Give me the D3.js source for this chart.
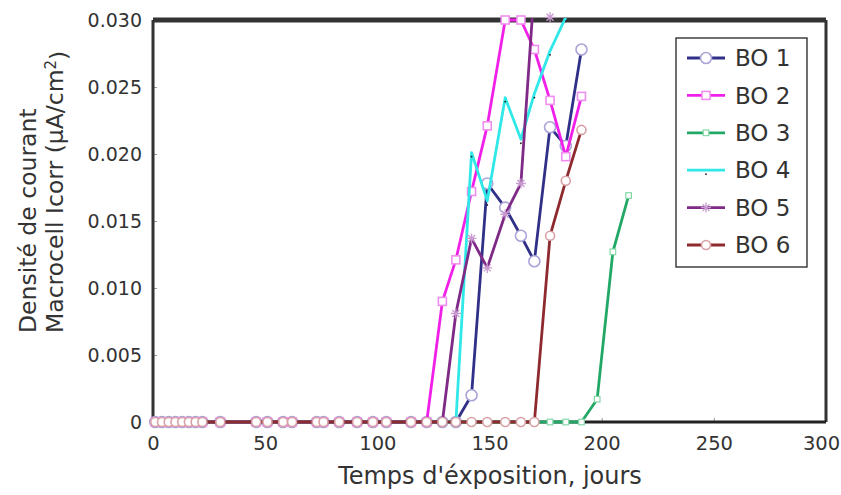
<!DOCTYPE html>
<html>
<head>
<meta charset="utf-8">
<script src="https://cdn.jsdelivr.net/npm/d3@7"></script>
<style>
  body { margin: 0; background: #fff; }
  svg { display: block; }
  text { font-family: "DejaVu Sans", sans-serif; fill: #333; }
</style>
</head>
<body>
<svg width="841" height="495"></svg>
<script>
// sampling days (shared by all specimens)
const days = [1,4,7,10,13,16,19,22,30,46,51,58,62,73,76,83,91,98,104,115,122,
              129,135,142,149,157,164,170,177,184,191,198,205,212];

// current density per specimen, from day 129 on (0 before that), null = not measured
const lateDays = [129,135,142,149,157,164,170,177,184,191,198,205,212];
const bo1 = [0, 0, 0.0020, 0.0178, 0.0160, 0.0139, 0.0120, 0.0220, 0.0206, 0.0278, null, null, null];
const bo2 = [0.0090, 0.0121, 0.0172, 0.0221, 0.0300, 0.0300, 0.0278, 0.0240, 0.0198, 0.0243, null, null, null];
const bo3 = [0, 0, 0, 0, 0, 0, 0, 0, 0, 0, 0.0017, 0.0127, 0.0169];
const bo4 = [0, 0, 0.0201, 0.0165, 0.0242, 0.0211, 0.0245, 0.0277, 0.0302, null, null, null, null];
const bo5 = [0, 0.0081, 0.0137, 0.0115, 0.0155, 0.0178, 0.0325, 0.0302, null, null, null, null, null];
const bo6 = [0, 0, 0, 0, 0, 0, 0, 0.0139, 0.0180, 0.0218, null, null, null];

const names = ['BO 1','BO 2','BO 3','BO 4','BO 5','BO 6'];
const xTicks = [0, 50, 100, 150, 200, 250, 300];
const yTicks = [0, 0.005, 0.010, 0.015, 0.020, 0.025, 0.030];

const lineColors = ['#303088', '#f020e8', '#22a866', '#30e8e8', '#7e2a86', '#8e2a2e'];
const markColors = ['#aaa4d8', '#f08ef0', '#86d8a8', '#222222', '#c89ad0', '#d8a0a4'];
const markShapes = ['circle', 'square', 'small', 'dot', 'star', 'circle6'];

// build full series: zeros before day 129
const early = days.filter(d => d < 129);
const series = [bo1, bo2, bo3, bo4, bo5, bo6].map((vals, i) => ({
  name: names[i],
  pts: early.map(d => ({d: d, v: 0}))
        .concat(lateDays.map((d, j) => ({d: d, v: vals[j]})).filter(p => p.v !== null))
}));

const svg = d3.select('svg');
const pL = 153, pR = 826, pT = 20, pB = 422;

const x = d3.scaleLinear().domain([0, 300]).range([pL, pR]);
const y = d3.scaleLinear().domain([0, 0.030]).range([pB, pT]);

// axes: short inward ticks, no domain line
const xAxis = svg.append('g')
  .attr('transform', 'translate(0,' + pB + ')')
  .call(d3.axisBottom(x).tickValues(xTicks).tickSize(-4).tickPadding(14).tickFormat(d3.format('d')));
const yAxis = svg.append('g')
  .attr('transform', 'translate(' + pL + ',0)')
  .call(d3.axisLeft(y).tickValues(yTicks).tickSize(-4).tickPadding(11)
        .tickFormat(d => d === 0 ? '0' : d3.format('.3f')(d)));
[xAxis, yAxis].forEach(a => {
  a.select('.domain').remove();
  a.selectAll('line').attr('stroke', '#999');
  a.selectAll('text').style('font-family', '"DejaVu Sans", sans-serif').attr('fill', '#333');
});
xAxis.selectAll('text').style('font-size', '19.5px');
// last label sits at the window edge, nudge it in a bit
xAxis.selectAll('.tick').filter(d => d === 300).select('text').attr('dx', -5);
yAxis.selectAll('text').style('font-size', '19px').attr('dy', '0.36em');

// frame
svg.append('line').attr('x1', pL).attr('x2', pR).attr('y1', pT).attr('y2', pT)
  .attr('stroke', '#333').attr('stroke-width', 5);
svg.append('line').attr('x1', pL).attr('x2', pL).attr('y1', pT).attr('y2', pB)
  .attr('stroke', '#333').attr('stroke-width', 3);
svg.append('line').attr('x1', pR).attr('x2', pR).attr('y1', pT).attr('y2', pB)
  .attr('stroke', '#333').attr('stroke-width', 3);
svg.append('line').attr('x1', pL).attr('x2', pR).attr('y1', pB).attr('y2', pB)
  .attr('stroke', '#222').attr('stroke-width', 3);

// clip lines to the plot area
svg.append('clipPath').attr('id', 'plotClip')
  .append('rect').attr('x', pL).attr('y', pT - 2).attr('width', pR - pL).attr('height', pB - pT + 4);

const line = d3.line().x(p => x(p.d)).y(p => y(p.v));

// draws one marker at (cx, cy)
function drawMarker(g, shape, cx, cy, col) {
  if (shape === 'circle') {
    g.append('circle').attr('cx', cx).attr('cy', cy).attr('r', 5.5)
      .attr('fill', '#fff').attr('stroke', col).attr('stroke-width', 1.6);
  } else if (shape === 'circle6') {
    g.append('circle').attr('cx', cx).attr('cy', cy).attr('r', 4.5)
      .attr('fill', '#fff').attr('stroke', col).attr('stroke-width', 1.6);
  } else if (shape === 'square') {
    g.append('rect').attr('x', cx - 4).attr('y', cy - 4).attr('width', 8).attr('height', 8)
      .attr('fill', '#fff').attr('stroke', col).attr('stroke-width', 1.6);
  } else if (shape === 'small') {
    g.append('rect').attr('x', cx - 2.8).attr('y', cy - 2.8).attr('width', 5.6).attr('height', 5.6)
      .attr('fill', '#fff').attr('stroke', col).attr('stroke-width', 1.2);
  } else if (shape === 'dot') {
    g.append('circle').attr('cx', cx).attr('cy', cy + 4).attr('r', 0.9).attr('fill', col);
  } else if (shape === 'star') {
    g.append('path')
      .attr('d', 'M' + (cx - 5) + ',' + cy + 'h10M' + cx + ',' + (cy - 5) + 'v10' +
                 'M' + (cx - 3.5) + ',' + (cy - 3.5) + 'l7,7M' + (cx - 3.5) + ',' + (cy + 3.5) + 'l7,-7')
      .attr('stroke', col).attr('stroke-width', 1.3).attr('fill', 'none');
  }
}

series.forEach((s, i) => {
  const g = svg.append('g').attr('class', 'series');
  g.append('path').datum(s.pts)
    .attr('d', line)
    .attr('clip-path', 'url(#plotClip)')
    .attr('fill', 'none')
    .attr('stroke', lineColors[i])
    .attr('stroke-width', 2.8)
    .attr('stroke-linejoin', 'round');
  s.pts.filter(p => p.v <= 0.0305).forEach(p =>
    drawMarker(g, markShapes[i], x(p.d), y(p.v), markColors[i]));
});

// legend
const lg = svg.append('g').attr('transform', 'translate(676,38)');
lg.append('rect').attr('width', 131).attr('height', 229)
  .attr('fill', '#fff').attr('stroke', '#222').attr('stroke-width', 1.3);
names.forEach((n, i) => {
  const cy = 20 + i * 37.4;
  lg.append('line').attr('x1', 11).attr('x2', 49).attr('y1', cy).attr('y2', cy)
    .attr('stroke', lineColors[i]).attr('stroke-width', 2.8);
  drawMarker(lg, markShapes[i], 30, cy, markColors[i]);
  lg.append('text').attr('x', 59).attr('y', cy).attr('dy', '0.36em')
    .style('font-size', '23px').attr('fill', '#222').text(n);
});

// axis titles
svg.append('text')
  .attr('x', 490).attr('y', 484)
  .attr('text-anchor', 'middle')
  .style('font-size', '24px')
  .text("Temps d'éxposition, jours");

const yt = svg.append('text')
  .attr('transform', 'translate(0,333) rotate(-90)')
  .style('font-size', '23.5px');
yt.append('tspan').attr('x', 0).attr('y', 36).text('Densité de courant');
yt.append('tspan').attr('x', 0).attr('y', 63).text('Macrocell Icorr (µA/cm');
yt.append('tspan').attr('dy', '-0.45em').style('font-size', '15px').text('2');
yt.append('tspan').attr('dy', '0.45em').text(')');
</script>
</body>
</html>
